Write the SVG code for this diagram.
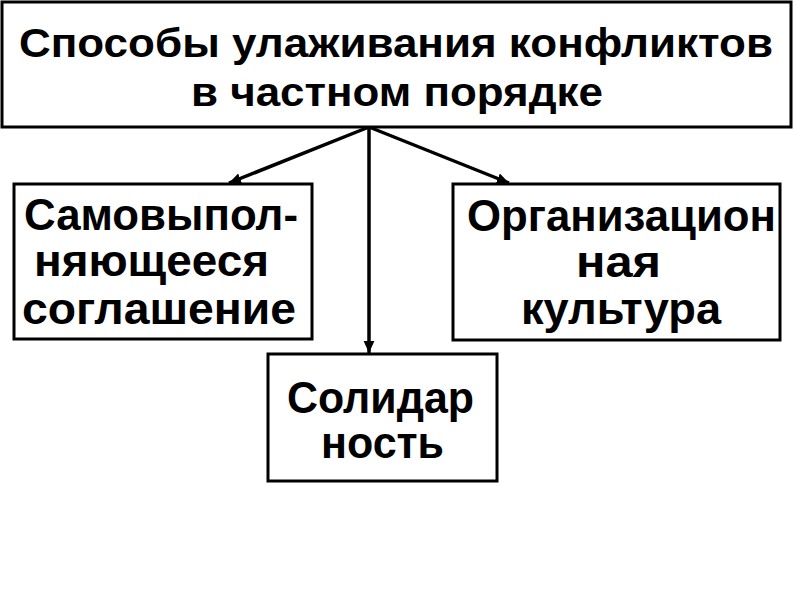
<svg xmlns="http://www.w3.org/2000/svg" width="794" height="595" viewBox="0 0 794 595">
  <defs>
    <marker id="arrow" markerUnits="userSpaceOnUse" markerWidth="12" markerHeight="12" viewBox="0 0 10 10" refX="10" refY="5" orient="auto">
      <path d="M0,0.5 L10,5 L0,9.5 Z" fill="#000"/>
    </marker>
    <style>
      .box { fill: #fff; stroke: #000; stroke-width: 3; }
      .t { font-family: "Liberation Sans", Arial, sans-serif; font-weight: bold; fill: #000; }
      .title { font-size: 41px; }
      .lbl { font-size: 44px; }
      .conn { stroke: #000; stroke-width: 3.5; fill: none; marker-end: url(#arrow); }
    </style>
  </defs>
  <rect width="794" height="595" fill="#fff"/>

  <g id="connectors">
    <line class="conn" x1="369" y1="127" x2="229" y2="183"/>
    <line class="conn" x1="369" y1="127" x2="509" y2="183"/>
    <line class="conn" x1="369" y1="127" x2="369" y2="353"/>
  </g>

  <g id="root">
    <rect class="box" x="2" y="2" width="789" height="125"/>
    <text class="t title" x="19" y="57" textLength="754" lengthAdjust="spacingAndGlyphs">Способы улаживания конфликтов</text>
    <text class="t title" x="191" y="106" textLength="412" lengthAdjust="spacingAndGlyphs">в частном порядке</text>
  </g>

  <g id="self-executing">
    <rect class="box" x="14" y="184" width="298" height="155"/>
    <text class="t lbl" x="24" y="230" textLength="274" lengthAdjust="spacingAndGlyphs">Самовыпол-</text>
    <text class="t lbl" x="34" y="276" textLength="235" lengthAdjust="spacingAndGlyphs">няющееся</text>
    <text class="t lbl" x="22" y="324" textLength="274" lengthAdjust="spacingAndGlyphs">соглашение</text>
  </g>

  <g id="org-culture">
    <rect class="box" x="453" y="184" width="327" height="156"/>
    <text class="t lbl" x="467" y="231" textLength="309" lengthAdjust="spacingAndGlyphs">Организацион</text>
    <text class="t lbl" x="576" y="277" textLength="85" lengthAdjust="spacingAndGlyphs">ная</text>
    <text class="t lbl" x="521" y="324" textLength="200" lengthAdjust="spacingAndGlyphs">культура</text>
  </g>

  <g id="solidarity">
    <rect class="box" x="268" y="354" width="229" height="127"/>
    <text class="t lbl" x="287" y="413" textLength="187" lengthAdjust="spacingAndGlyphs">Солидар</text>
    <text class="t lbl" x="321" y="458" textLength="123" lengthAdjust="spacingAndGlyphs">ность</text>
  </g>
</svg>
